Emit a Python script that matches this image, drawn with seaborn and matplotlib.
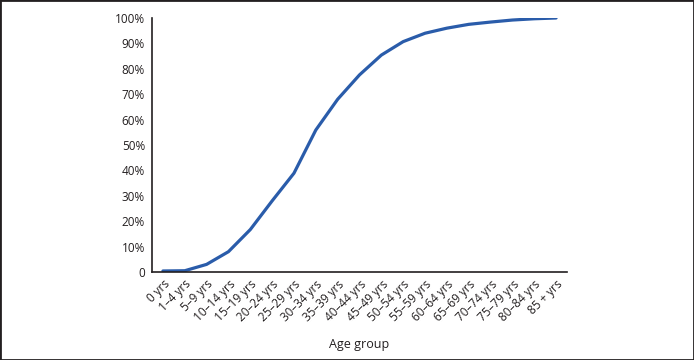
import matplotlib
matplotlib.use("Agg")
import matplotlib.pyplot as plt
import seaborn as sns
import pandas as pd
from matplotlib.patches import Rectangle
from matplotlib.ticker import FixedLocator, FuncFormatter

age_groups = ["0 yrs", "1–4 yrs", "5–9 yrs", "10–14 yrs", "15–19 yrs", "20–24 yrs",
              "25–29 yrs", "30–34 yrs", "35–39 yrs", "40–44 yrs", "45–49 yrs",
              "50–54 yrs", "55–59 yrs", "60–64 yrs", "65–69 yrs", "70–74 yrs",
              "75–79 yrs", "80–84 yrs", "85 + yrs"]
cumulative_pct = [0.4, 0.5, 3.0, 8.0, 16.7, 28.0, 38.9, 55.9, 68.0, 77.6, 85.4,
                  90.7, 94.0, 96.0, 97.5, 98.4, 99.2, 99.7, 100.0]
y_ticks = [0, 10, 20, 30, 40, 50, 60, 70, 80, 90, 100]

ink = "#231f20"
blue = "#2a5caa"

sns.set_theme(style="white")
plt.rcParams["font.family"] = ["Open Sans", "DejaVu Sans"]

df = pd.DataFrame({"pos": range(len(age_groups)), "pct": cumulative_pct})

fig = plt.figure(figsize=(6.94, 3.60), dpi=100)
ax = fig.add_axes([152 / 694, 1 - 272 / 360, (567 - 152) / 694, (272 - 18) / 360])

sns.lineplot(data=df, x="pos", y="pct", ax=ax, color=blue, linewidth=2.3)

ax.set_xlim(-0.5, len(age_groups) - 0.5)
ax.set_ylim(0, 100)

# boundary ticks (no labels), category labels at centres
ax.xaxis.set_major_locator(FixedLocator([i + 0.5 for i in range(len(age_groups))]))
ax.xaxis.set_major_formatter(FuncFormatter(lambda v, p: ""))
ax.xaxis.set_minor_locator(FixedLocator(list(range(len(age_groups)))))
ax.set_xticklabels(age_groups, minor=True, rotation=45, ha="right",
                   rotation_mode="anchor", fontsize=8.5, color=ink)
ax.tick_params(axis="x", which="major", direction="in", length=6, width=1, color=ink)
ax.tick_params(axis="x", which="minor", length=0, pad=4)

ax.set_yticks(y_ticks)
ax.set_yticklabels(["0" if v == 0 else f"{v}%" for v in y_ticks], fontsize=8.5, color=ink)
ax.tick_params(axis="y", direction="in", length=8, width=1, color=ink, pad=5)

for side in ["top", "right"]:
    ax.spines[side].set_visible(False)
for side in ["left", "bottom"]:
    ax.spines[side].set_color(ink)
    ax.spines[side].set_linewidth(1.2)

ax.set_xlabel("Age group", fontsize=9, color=ink, labelpad=10)
ax.set_ylabel("")

fig.patches.append(Rectangle((0, 0), 1, 1, transform=fig.transFigure, fill=False,
                             edgecolor=ink, linewidth=2, zorder=10))

fig.savefig("out.png", dpi=100)
